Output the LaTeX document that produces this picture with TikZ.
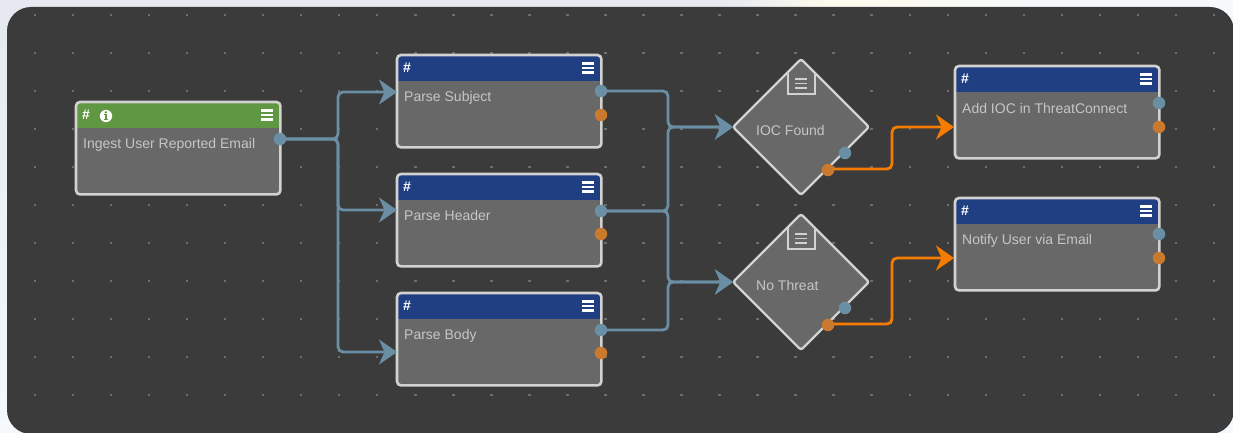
\documentclass[tikz,border=0pt]{standalone}
\usepackage{fontspec}
\setmainfont{Liberation Sans}
\usetikzlibrary{arrows.meta,calc}
\definecolor{pagebg}{HTML}{E6E9EF}
\definecolor{pagepale}{HTML}{F5F9FC}
\definecolor{pageyellow}{HTML}{FDFBEC}
\definecolor{panel}{HTML}{3B3B3B}
\definecolor{griddot}{HTML}{6E6E72}
\definecolor{bodyfill}{HTML}{686868}
\definecolor{edgeline}{HTML}{D2D2D0}
\definecolor{headblue}{HTML}{1F3F82}
\definecolor{headgreen}{HTML}{5F9743}
\definecolor{wireblue}{HTML}{6A8FA5}
\definecolor{wireorange}{HTML}{F57C00}
\definecolor{portorange}{HTML}{C97A2E}
\definecolor{labeltext}{HTML}{C6C6C6}
\tikzset{
  wire/.style={draw=wireblue,line width=2.8pt,rounded corners=5pt},
  wirehot/.style={draw=wireorange,line width=2.8pt,rounded corners=5pt},
  tipshape/.style={-{Stealth[length=18pt,width=25pt,inset=5.5pt]}},
  portb/.style={circle,fill=wireblue,inner sep=0pt,minimum size=12.5pt},
  porto/.style={circle,fill=portorange,inner sep=0pt,minimum size=12.5pt},
  caption/.style={anchor=base west,inner sep=0pt,text=labeltext,font=\fontsize{14}{16}\selectfont},
  hash/.style={anchor=center,inner sep=0pt,text=white,font=\fontsize{14}{16}\selectfont\bfseries},
  boxframe/.style={draw=edgeline,line width=2.6pt,rounded corners=4pt},
  nodebody/.style={anchor=north west,inner sep=0pt,minimum width=204pt,minimum height=92pt,rounded corners=4pt,fill=bodyfill},
  diamondframe/.style={draw=edgeline,line width=2.4pt,fill=bodyfill,line join=round,rounded corners=2.5pt},
  menubar/.style={line width=2.2pt,white},
  docbar/.style={line width=1.8pt,edgeline},
}
% body node with coloured header: #1 name, #2 x, #3 y, #4 header colour, #5 caption baseline offset, #6 caption
\newcommand{\flowbox}[6]{%
  \node[nodebody] (#1) at (#2,#3) {};
  \fill[#4] ($(#1.north west)+(1,1)$) rectangle ($(#1.north east)+(-1,26)$);
  \draw[boxframe] (#1.north west) rectangle (#1.south east);
  \node[hash] (#1hash) at ($(#1.north west)+(10,13)$) {\#};
  \foreach \yy in {8.5,13,17.5}{\draw[menubar] ($(#1.north east)+(-19.5,\yy)$) -- ($(#1.north east)+(-7,\yy)$);}
  \node[caption] (#1text) at ($(#1.north west)+(7,#5)$) {#6};
}
\newcommand{\flowdiamond}[5]{%
  % #1 name, #2 centre x, #3 centre y, #4 caption baseline offset, #5 caption
  \coordinate (#1) at (#2,#3);
  \draw[diamondframe] ($(#1)+(-68,0)$) -- ($(#1)+(0,-68)$) -- ($(#1)+(68,0)$) -- ($(#1)+(0,68)$) -- cycle;
  \draw[draw=edgeline,line width=2pt] ($(#1)+(-13.5,-54.5)$) -- ($(#1)+(-13.5,-33)$) -- ($(#1)+(13.5,-33)$) -- ($(#1)+(13.5,-54.5)$);
  \foreach \yy in {-48,-43.5,-39}{\draw[docbar] ($(#1)+(-6,\yy)$) -- ($(#1)+(6,\yy)$);}
  \node[caption] (#1text) at ($(#1)+(-45,#4)$) {#5};
}
\begin{document}
\begin{tikzpicture}[x=1pt,y=-1pt]
\useasboundingbox (0,0) rectangle (1233,433);
\fill[pagepale] (0,0) rectangle (1233,433);
\shade[top color=pagebg,bottom color=pagepale] (0,0) rectangle (40,433);
\shade[left color=pagebg,right color=pagebg] (0,0) rectangle (720,40);
\shade[left color=pagebg,right color=pageyellow] (720,0) rectangle (830,40);
\shade[left color=pageyellow,right color=pagepale] (830,0) rectangle (1060,40);
\fill[panel,rounded corners=24pt] (7,7) rectangle (1234,434);
% grid dots
\foreach \i in {0,...,31}{\foreach \j in {0,...,10}{
  \fill[griddot] ({35+38.03*\i-1.2},{15+38*\j-1.2}) rectangle ++(2.4,2.4);
}}
% nodes
\flowbox{ingest}{76}{102}{headgreen}{46}{Ingest User Reported Email}
\flowbox{subject}{397}{55}{headblue}{46.5}{Parse Subject}
\flowbox{header}{397}{174}{headblue}{46}{Parse Header}
\flowbox{body}{397}{293}{headblue}{46}{Parse Body}
\flowbox{addioc}{955}{66}{headblue}{47.5}{Add IOC in ThreatConnect}
\flowbox{notify}{955}{198}{headblue}{46}{Notify User via Email}
\flowdiamond{found}{801}{127}{8.5}{IOC Found}
\flowdiamond{nothreat}{801}{282}{8}{No Threat}
% info icon on the ingest header
\fill[white] (106,116) circle (6.2);
\fill[headgreen] (104.9,115) rectangle (107.1,119.4);
\fill[headgreen] (103.6,118.7) rectangle (108.4,120);
\fill[headgreen] (103.8,114.2) rectangle (107.1,115.4);
\fill[headgreen] (105.8,112.3) circle (1.3);
% connector way points
\coordinate (subjectIn) at (397,92);
\coordinate (headerIn) at (397,210);
\coordinate (bodyIn) at (397,352);
\coordinate (foundIn) at (733,127);
\coordinate (nothreatIn) at (733,282);
\coordinate (addiocIn) at (954,127);
\coordinate (notifyIn) at (954,258);
\coordinate (busA) at (338,0);
\coordinate (busB) at (668,0);
\coordinate (busC) at (892,0);
\coordinate (foundOut) at (828,169);
\coordinate (nothreatOut) at (828,324);
\coordinate (ingestPort) at (280,139);
\coordinate (subjectPort) at (601,91);
\coordinate (headerPort) at (601,211);
\coordinate (bodyPort) at (601,330);
% blue connectors
\draw[wire,tipshape] (ingestPort) -- (busA |- ingestPort) -- (busA |- subjectIn) -- (subjectIn);
\draw[wire,tipshape] (ingestPort) -- (busA |- ingestPort) -- (busA |- headerIn) -- (headerIn);
\draw[wire,tipshape] (ingestPort) -- (busA |- ingestPort) -- (busA |- bodyIn) -- (bodyIn);
\draw[wire,tipshape] (subjectPort) -- (busB |- subjectPort) -- (busB |- foundIn) -- (foundIn);
\draw[wire,tipshape] (headerPort) -- (busB |- headerPort) -- (busB |- foundIn) -- (foundIn);
\draw[wire,tipshape] (headerPort) -- (busB |- headerPort) -- (busB |- nothreatIn) -- (nothreatIn);
\draw[wire,tipshape] (bodyPort) -- (busB |- bodyPort) -- (busB |- nothreatIn) -- (nothreatIn);
% orange connectors
\draw[wirehot,tipshape] (foundOut) -- (busC |- foundOut) -- (busC |- addiocIn) -- (addiocIn);
\draw[wirehot,tipshape] (nothreatOut) -- (busC |- nothreatOut) -- (busC |- notifyIn) -- (notifyIn);
% ports
\node[portb] (ingestB) at (ingestPort) {};
\node[portb] (subjectB) at (subjectPort) {};
\node[porto] (subjectO) at (601,115) {};
\node[portb] (headerB) at (headerPort) {};
\node[porto] (headerO) at (601,234) {};
\node[portb] (bodyB) at (bodyPort) {};
\node[porto] (bodyO) at (601,353) {};
\node[portb] (foundB) at (845,153) {};
\node[porto] (foundO) at (828,170) {};
\node[portb] (nothreatB) at (845,308) {};
\node[porto] (nothreatO) at (828,325) {};
\node[portb] (addiocB) at (1159,103) {};
\node[porto] (addiocO) at (1159,127) {};
\node[portb] (notifyB) at (1159,234) {};
\node[porto] (notifyO) at (1159,258) {};
\end{tikzpicture}
\end{document}
